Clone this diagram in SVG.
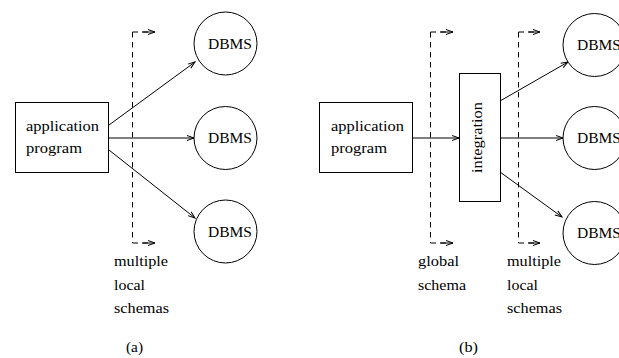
<svg xmlns="http://www.w3.org/2000/svg" width="619" height="358" viewBox="0 0 619 358" font-family="'Liberation Serif', 'DejaVu Serif', serif">
<style>
text{font-family:"Liberation Serif","DejaVu Serif",serif;font-size:15px;fill:#000}
.box{fill:#fff;stroke:#000;stroke-width:1}
.db{fill:#fff;stroke:#000;stroke-width:1}
.ln{fill:none;stroke:#000;stroke-width:1;marker-end:url(#ah)}
.ds{fill:none;stroke:#000;stroke-width:1;stroke-dasharray:5.5 4.5}
</style>
<defs>
<marker id="ah" markerUnits="userSpaceOnUse" markerWidth="10" markerHeight="8" refX="8" refY="3" orient="auto" overflow="visible">
<path d="M1,0.5 L8,3 L1,5.5" fill="none" stroke="#000" stroke-width="1"/>
</marker>
</defs>
<rect width="619" height="358" fill="#fff"/>
<g id="connectors">
<line class="ln" x1="109" y1="125" x2="195" y2="62"/>
<line class="ln" x1="109" y1="138" x2="194" y2="138"/>
<line class="ln" x1="109" y1="150" x2="195" y2="218"/>
<line class="ln" x1="413" y1="138" x2="459" y2="138"/>
<line class="ln" x1="500" y1="101" x2="568" y2="62"/>
<line class="ln" x1="500" y1="138" x2="563" y2="138"/>
<line class="ln" x1="500" y1="172" x2="562" y2="217"/>
</g>
<g id="schema-a">
<path class="ds" d="M132.5,32 V243"/>
<path class="ds" d="M132.5,32 H148"/>
<path class="ln" d="M142,32 H155"/>
<path class="ds" d="M132.5,243 H148"/>
<path class="ln" d="M142,243 H155"/>
<text x="114" y="266" textLength="54" lengthAdjust="spacingAndGlyphs">multiple</text>
<text x="114" y="289.5" textLength="31" lengthAdjust="spacingAndGlyphs">local</text>
<text x="114" y="313" textLength="55" lengthAdjust="spacingAndGlyphs">schemas</text>
</g>
<g id="app-a">
<rect class="box" x="15.5" y="102.5" width="93" height="70"/>
<text x="26" y="131" textLength="73" lengthAdjust="spacingAndGlyphs">application</text>
<text x="26" y="153" textLength="56" lengthAdjust="spacingAndGlyphs">program</text>
</g>
<g id="dbms-a1"><circle class="db" cx="225.5" cy="43.5" r="31.5"/><text x="208" y="49" textLength="44" lengthAdjust="spacingAndGlyphs">DBMS</text></g>
<g id="dbms-a2"><circle class="db" cx="225.5" cy="138" r="31.5"/><text x="208" y="143" textLength="44" lengthAdjust="spacingAndGlyphs">DBMS</text></g>
<g id="dbms-a3"><circle class="db" cx="225.5" cy="231.5" r="31.5"/><text x="208" y="237" textLength="44" lengthAdjust="spacingAndGlyphs">DBMS</text></g>
<text id="label-a" x="126" y="352" textLength="17" lengthAdjust="spacingAndGlyphs">(a)</text>
<g id="global-schema">
<path class="ds" d="M430.5,32 V243"/>
<path class="ds" d="M430.5,32 H446"/>
<path class="ln" d="M440,32 H453"/>
<path class="ds" d="M430.5,243 H446"/>
<path class="ln" d="M440,243 H453"/>
<text x="418" y="266" textLength="41" lengthAdjust="spacingAndGlyphs">global</text>
<text x="418" y="289.5" textLength="48" lengthAdjust="spacingAndGlyphs">schema</text>
</g>
<g id="local-schemas-b">
<path class="ds" d="M518.5,32 V243"/>
<path class="ds" d="M518.5,32 H534"/>
<path class="ln" d="M528,32 H540"/>
<path class="ds" d="M518.5,243 H534"/>
<path class="ln" d="M528,243 H540"/>
<text x="507" y="266" textLength="54" lengthAdjust="spacingAndGlyphs">multiple</text>
<text x="507" y="289.5" textLength="31" lengthAdjust="spacingAndGlyphs">local</text>
<text x="507" y="313" textLength="55" lengthAdjust="spacingAndGlyphs">schemas</text>
</g>
<g id="app-b">
<rect class="box" x="319.5" y="102.5" width="93" height="70"/>
<text x="331" y="131" textLength="73" lengthAdjust="spacingAndGlyphs">application</text>
<text x="331" y="153" textLength="56" lengthAdjust="spacingAndGlyphs">program</text>
</g>
<g id="integration">
<rect class="box" x="459.5" y="73.5" width="41" height="128"/>
<text transform="translate(482,173) rotate(-90)" x="0" y="0" textLength="71" lengthAdjust="spacingAndGlyphs">integration</text>
</g>
<g id="dbms-b1"><circle class="db" cx="594.5" cy="45" r="31.5"/><text x="577" y="50" textLength="44" lengthAdjust="spacingAndGlyphs">DBMS</text></g>
<g id="dbms-b2"><circle class="db" cx="594.5" cy="138" r="31.5"/><text x="577" y="143" textLength="44" lengthAdjust="spacingAndGlyphs">DBMS</text></g>
<g id="dbms-b3"><circle class="db" cx="594.5" cy="233" r="31.5"/><text x="577" y="238" textLength="44" lengthAdjust="spacingAndGlyphs">DBMS</text></g>
<text id="label-b" x="459" y="352" textLength="19" lengthAdjust="spacingAndGlyphs">(b)</text>
</svg>
